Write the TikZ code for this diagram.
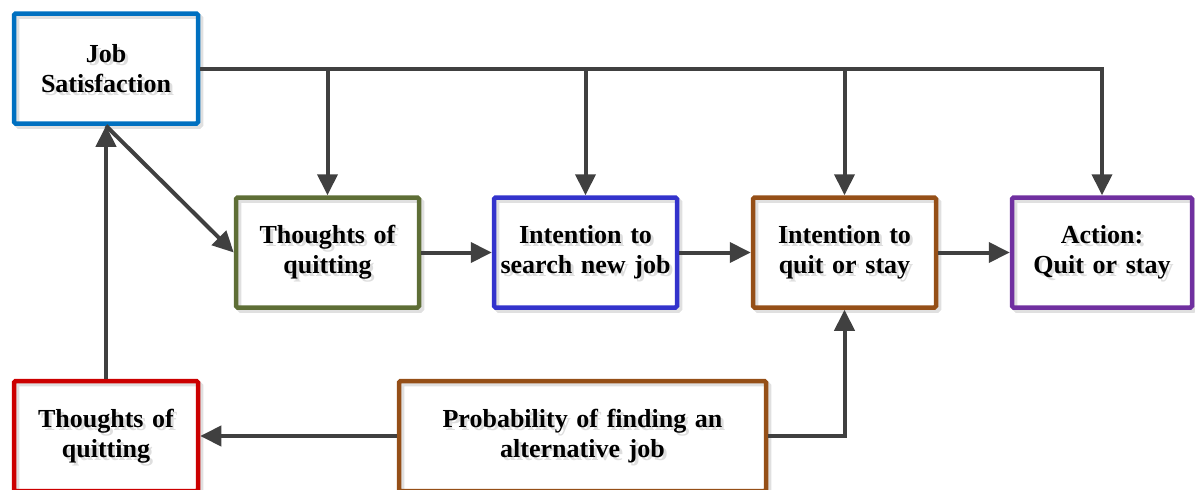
\documentclass[tikz,border=0pt]{standalone}
\usepackage{fontspec}
\setmainfont{Liberation Serif}
\usetikzlibrary{arrows.meta,shadows}

\definecolor{jsblue}{HTML}{0070C0}
\definecolor{olive}{HTML}{5E6E36}
\definecolor{indigo}{HTML}{3333CC}
\definecolor{rust}{HTML}{954F17}
\definecolor{violet}{HTML}{7030A0}
\definecolor{crimson}{HTML}{CC0000}
\definecolor{wire}{HTML}{404040}

% one box: name, x, y, line width, colour, text
\newcommand\putbox[6]{%
  \node[txtshade, text width=#4pt] at (#2+3,#3+3) {#6};
  \node[box=#5, minimum width=#4pt, text width=#4pt] (#1) at (#2,#3) {#6};
}

\begin{document}
\begin{tikzpicture}[x=1pt,y=-1pt,
  label font/.style={font=\fontsize{26}{30}\selectfont\bfseries, align=center},
  box/.style={draw=#1, line width=4.5pt, rounded corners=1.5pt,
    minimum height=110pt, inner sep=0pt, label font,
    general shadow={shadow xshift=3pt, shadow yshift=-3pt,
      draw=black!12, line width=4.5pt, fill=none}},
  txtshade/.style={label font, text=black!13, inner sep=0pt},
  conn/.style={draw=wire, line width=4pt,
    -{Triangle[length=21pt,width=20pt]}}]

\path[use as bounding box, clip] (0,0) rectangle (1195,490);

\putbox{js}{106}{68.5}{184}{jsblue}{Job\\Satisfaction}
\putbox{tq}{327.5}{252.5}{183}{olive}{Thoughts of\\quitting}
\putbox{is}{585.5}{252.5}{183}{indigo}{Intention to\\search new job}
\putbox{iq}{844.5}{252.5}{183}{rust}{Intention to\\quit or stay}
\putbox{act}{1102}{252.5}{180}{violet}{Action:\\Quit or stay}
\putbox{rq}{106}{436}{184}{crimson}{Thoughts of\\quitting}
\putbox{pr}{582.5}{436}{367}{rust}{Probability of finding an\\alternative job}

% job satisfaction feeds every stage along the top rail
\draw[conn] (js.east) -- (act.north |- js.east) -- (act.north);
\draw[conn] (tq.north |- js.east) -- (tq.north);
\draw[conn] (is.north |- js.east) -- (is.north);
\draw[conn] (iq.north |- js.east) -- (iq.north);

% main chain
\draw[conn] (js.south) -- (tq.west);
\draw[conn] (tq.east) -- (is.west);
\draw[conn] (is.east) -- (iq.west);
\draw[conn] (iq.east) -- (act.west);

% lower loop
\draw[conn] (rq.north) -- (js.south);
\draw[conn] (pr.west) -- (rq.east);
\draw[conn] (pr.east) -- (iq.south |- pr.east) -- (iq.south);
\end{tikzpicture}
\end{document}
